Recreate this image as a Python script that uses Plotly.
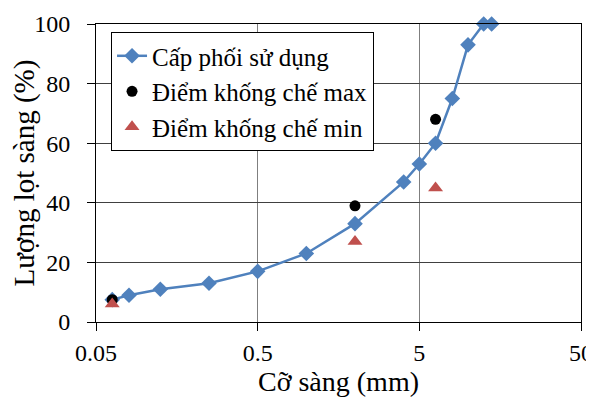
import plotly.graph_objects as go

sieve_used = [0.063, 0.08, 0.125, 0.25, 0.5, 1, 2, 4, 5, 6.3, 8, 10, 12.5, 14]
pass_used = [7.5, 9, 11, 13, 17, 23, 33, 47, 53, 60, 75, 93, 100, 100]

sieve_ctrl = [0.063, 2, 6.3]
pass_max = [7.5, 39, 68]
pass_min = [6, 27, 45]

x_ticks = [0.05, 0.5, 5, 50]
x_tick_labels = ["0.05", "0.5", "5", "50"]
y_ticks = [0, 20, 40, 60, 80, 100]

FONT = '"Liberation Serif", "Times New Roman", "DejaVu Serif", serif'

fig = go.Figure()
fig.add_trace(go.Scatter(
    x=sieve_used, y=pass_used, mode="lines+markers", name="Cấp phối sử dụng",
    line=dict(color="#4F81BD", width=2.5),
    marker=dict(symbol="diamond", size=12, color="#4F81BD"),
    cliponaxis=False,
))
fig.add_trace(go.Scatter(
    x=sieve_ctrl, y=pass_max, mode="markers", name="Điểm khống chế max",
    marker=dict(symbol="circle", size=11, color="black"),
    cliponaxis=False,
))
fig.add_trace(go.Scatter(
    x=sieve_ctrl, y=pass_min, mode="markers", name="Điểm khống chế min",
    marker=dict(symbol="triangle-up", size=13, color="#C0504D"),
    cliponaxis=False,
))

# page body has an 8px margin, so the figure is shifted by (8, 8)
fig.update_layout(
    width=586, height=389,
    margin=dict(l=88, r=13, t=16, b=75),
    paper_bgcolor="white", plot_bgcolor="white",
    font=dict(family=FONT, size=24, color="black"),
    showlegend=True,
    legend=dict(
        x=0.031, y=0.973, xanchor="left", yanchor="top",
        bgcolor="white", bordercolor="black", borderwidth=1,
        font=dict(family=FONT, size=25, color="black"),
        tracegroupgap=0, itemwidth=30,
    ),
    xaxis=dict(
        type="log", range=[-1.30103, 1.69897],
        tickvals=x_ticks, ticktext=x_tick_labels,
        showgrid=True, gridcolor="#7f7f7f", gridwidth=1,
        showline=True, linecolor="black", linewidth=1, mirror=True,
        ticks="outside", ticklen=8, tickcolor="black",
        title=dict(text="Cỡ sàng (mm)", font=dict(family=FONT, size=28), standoff=5),
        tickfont=dict(family=FONT, size=24),
        ticklabelstandoff=1,
        zeroline=False, automargin=False,
    ),
    yaxis=dict(
        range=[0, 100], tickvals=y_ticks,
        showgrid=True, gridcolor="#404040", gridwidth=1,
        showline=True, linecolor="black", linewidth=1, mirror=True,
        ticks="outside", ticklen=8, tickcolor="black",
        title=dict(text="Lượng lọt sàng (%)", font=dict(family=FONT, size=29), standoff=0),
        tickfont=dict(family=FONT, size=24),
        ticklabelstandoff=12,
        zeroline=False, automargin=False,
    ),
)

fig.write_html("out.html")
